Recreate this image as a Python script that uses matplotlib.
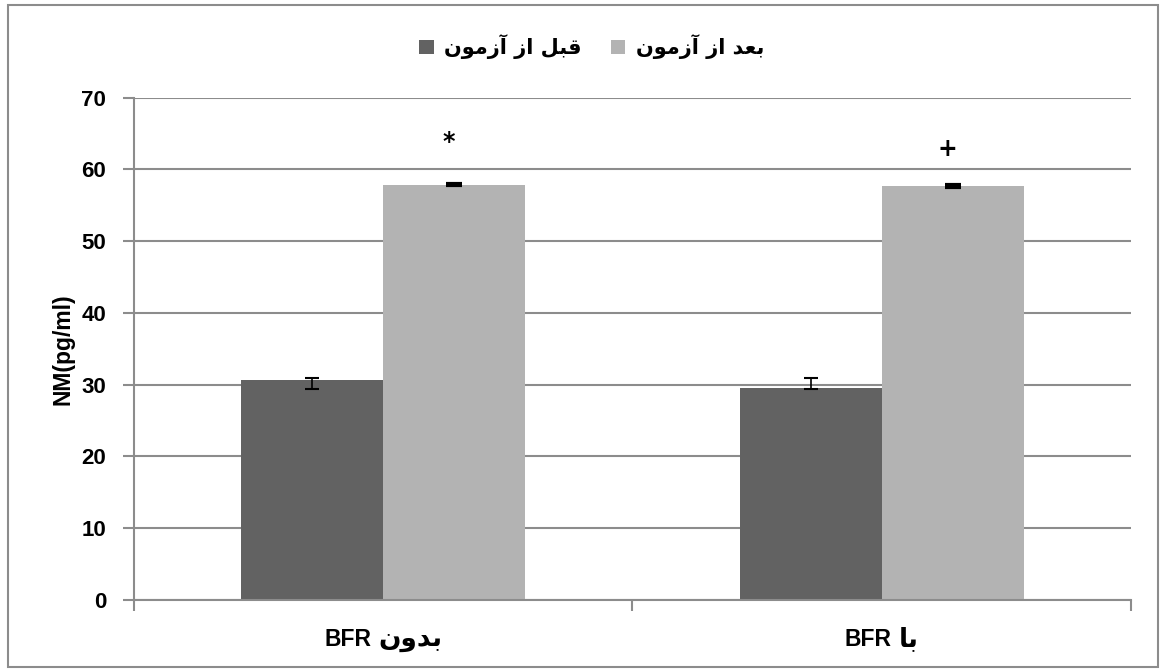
import numpy as np
import matplotlib
matplotlib.use("Agg")
import matplotlib.pyplot as plt
from matplotlib.patches import Rectangle
from matplotlib.offsetbox import TextArea, HPacker, AnnotationBbox

# Persian labels written as Arabic presentation forms in visual (left-to-right) order,
# since matplotlib does no shaping or bidi on its own
before_label = "\uFEE5\uFEEE\uFEE3\uFEAF\uFE81 \uFEAF\uFE8D \uFEDE\uFE92\uFED7"   # قبل از آزمون
after_label = "\uFEE5\uFEEE\uFEE3\uFEAF\uFE81 \uFEAF\uFE8D \uFEAA\uFECC\uFE91"    # بعد از آزمون
cat_latin = ["BFR", "BFR"]
cat_persian = ["\uFEE5\uFEED\uFEAA\uFE91",   # بدون
               "\uFE8E\uFE91"]               # با

before_vals = [30.7, 29.6]
before_err_low = [1.3, 0.2]
before_err_high = [0.3, 1.4]
after_vals = [57.9, 57.7]
after_err = [0.1, 0.1]
marks = ["*", "+"]
mark_y = [63.8, 62.9]
y_ticks = [0, 10, 20, 30, 40, 50, 60, 70]

plt.rcParams['font.family'] = ['Liberation Sans', 'DejaVu Sans']
plt.rcParams['font.weight'] = 'bold'

fig = plt.figure(figsize=(11.6, 6.71), dpi=100)
ax = fig.add_axes([0.1155, 0.1058, 0.8595, 0.7486])

x = np.arange(len(cat_latin))
w = 0.2846
dark = "#626262"
light = "#b3b3b3"
grey = "#8c8c8c"

ax.bar(x - w / 2, before_vals, w, color=dark, label=before_label, zorder=2)
ax.bar(x + w / 2, after_vals, w, color=light, label=after_label, zorder=2)
ax.errorbar(x - w / 2, before_vals, yerr=[before_err_low, before_err_high],
            fmt="none", ecolor="black", elinewidth=1.2, capsize=5, capthick=1.5, zorder=3)
ax.errorbar(x + w / 2, after_vals, yerr=after_err,
            fmt="none", ecolor="black", elinewidth=1.2, capsize=6, capthick=3, zorder=3)

for i in range(len(x)):
    ax.text(x[i] + w / 2 - 0.01, mark_y[i], marks[i], ha="center", va="center",
            fontsize=17, fontweight="bold", family="DejaVu Sans")

# category labels: latin part and persian part in their own sizes
for i in range(len(x)):
    box = HPacker(children=[
        TextArea(cat_latin[i], textprops=dict(family="Liberation Sans", size=16.5, weight="bold")),
        TextArea(cat_persian[i], textprops=dict(family="DejaVu Sans", size=19, weight="bold")),
    ], sep=5, align="baseline")
    ab = AnnotationBbox(box, (x[i], 0), xycoords=ax.get_xaxis_transform(),
                        xybox=(0, -28), boxcoords="offset points",
                        frameon=False, box_alignment=(0.5, 0.5), pad=0)
    ax.add_artist(ab)

ax.set_xlim(-0.5, 1.5)
ax.set_ylim(0, 70)
ax.set_yticks(y_ticks)
ax.set_yticklabels([str(v) for v in y_ticks], fontweight="bold")
ax.set_xticks([-0.5, 0.5, 1.5])
ax.set_xticklabels([])
ax.tick_params(axis="x", length=8, width=1.5, color=grey)
ax.tick_params(axis="y", length=8, width=1.5, color=grey, labelsize=16, pad=12)

ax.grid(axis="y", color=grey, linewidth=1.5, zorder=0)
ax.set_axisbelow(True)
for s in ["top", "right"]:
    ax.spines[s].set_visible(False)
for s in ["left", "bottom"]:
    ax.spines[s].set_color(grey)
    ax.spines[s].set_linewidth(1.5)

ax.set_ylabel("NM(pg/ml)", fontsize=16.5, fontweight="bold", labelpad=5)

fig.legend(loc="center", bbox_to_anchor=(0.51, 0.93), ncol=2, frameon=False,
           prop={"size": 15, "weight": "bold", "family": "DejaVu Sans"},
           handlelength=0.7, handleheight=0.7, handletextpad=0.5,
           columnspacing=1.4)

fig.patches.append(Rectangle((8 / 1160, 4 / 671), 1150 / 1160, 662 / 671,
                             transform=fig.transFigure, fill=False,
                             edgecolor=grey, linewidth=1.5))

fig.savefig("out.png", dpi=100)
